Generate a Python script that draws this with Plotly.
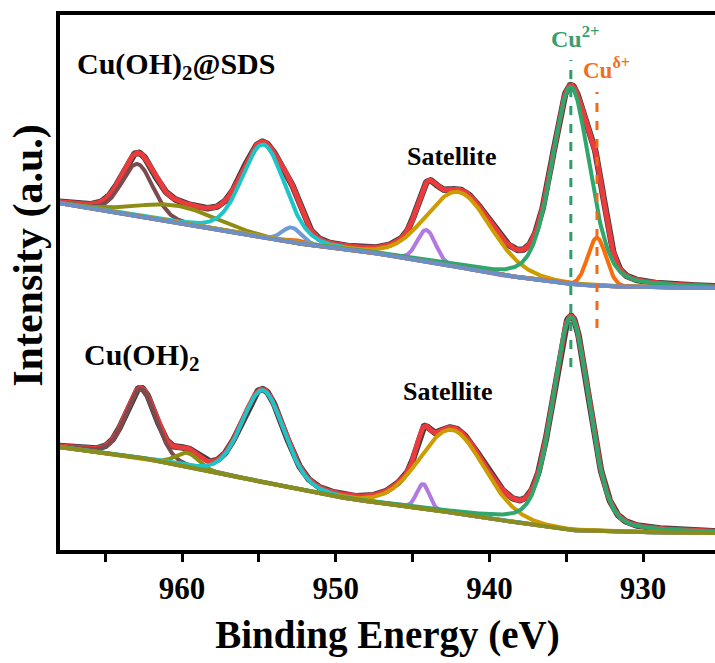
import numpy as np
import plotly.graph_objects as go

# ---------------------------------------------------------------
# Cu 2p XPS spectra with peak deconvolution
# ---------------------------------------------------------------
energy = np.linspace(968.0, 925.3, 900)          # binding energy grid (eV)

# Cu(OH)2@SDS -- fitted components
sds_names   = ["Cu2+ sat. 2p1/2", "sat. broad", "Cu2+ 2p1/2", "Cu\u03b4+ 2p1/2 (tail)",
               "Cu\u03b4+ 2p1/2", "sat. narrow", "sat. 2p3/2", "Cu2+ 2p3/2", "Cu\u03b4+ 2p3/2"]
sds_centers = [962.9, 960.3, 954.7, 952.6, 952.85, 944.1, 942.0, 934.7, 933.0]
sds_heights = [52, 17, 93, 3, 15, 31, 75, 197, 48]
sds_fwhm    = [2.4, 6.1, 3.3, 1.6, 1.5, 1.4, 5.0, 2.9, 1.4]
sds_eta     = [0.2, 0.0, 0.2, 0.0, 0.0, 0.0, 0.1, 0.3, 0.0]
sds_bg_e    = [925.3, 929.5, 932.8, 934.7, 936.0, 939.3, 942.0, 944.1, 945.8, 948.7,
               952.3, 955.6, 962.1, 968.0]
sds_bg_i    = [262, 263, 264, 266, 269, 275, 283, 289, 293, 300, 306, 315, 332, 347]

# Cu(OH)2 -- fitted components
cu_names    = ["Cu2+ sat. 2p1/2", "sat. small", "Cu2+ 2p1/2", "sat. narrow",
               "sat. 2p3/2", "Cu2+ 2p3/2"]
cu_centers  = [962.67, 959.67, 954.73, 944.32, 942.43, 934.69]
cu_heights  = [69, 14, 92, 24, 83, 213]
cu_fwhm     = [2.35, 1.8, 3.25, 0.95, 4.9, 2.8]
cu_eta      = [0.2, 0.0, 0.2, 0.0, 0.1, 0.3]
cu_bg_e     = [925.3, 931.5, 934.7, 936.1, 939.3, 942.4, 944.3, 948.7, 952.0, 954.8,
               957.4, 959.6, 962.6, 965.0, 968.0]
cu_bg_i     = [17, 18, 20, 23, 30, 37, 42, 50, 59, 68, 76, 83, 92, 97, 103]

# line colours
sds_colors = ["#7d4b4d", "#8d8d14", "#1fc4c8", "#f36b12", "#6e9ad8",
              "#b07ae2", "#cc9c02", "#31a66c", "#f86d0c"]
cu_colors  = ["#7d4b4d", "#8d8d14", "#1fc4c8", "#b07ae2", "#cc9c02", "#31a66c"]
SDS_BG_COLOR = "#6b8fc6"
CU_BG_COLOR = "#8a8c1e"
RAW_COLOR = "#3d3d3d"
ENV_COLOR = "#ec3b3d"


def pseudo_voigt(x, c, h, w, eta):
    g = np.exp(-4 * np.log(2) * ((x - c) / w) ** 2)
    l = 1.0 / (1.0 + 4 * ((x - c) / w) ** 2)
    return h * ((1 - eta) * g + eta * l)


def background(e_pts, i_pts):
    order = np.argsort(e_pts)
    return np.interp(energy, np.asarray(e_pts)[order], np.asarray(i_pts)[order])


fig = go.Figure()


def add_spectrum(centers, heights, fwhm, eta, names, colors, bg_e, bg_i, bg_color):
    bg = background(bg_e, bg_i)
    comps = [pseudo_voigt(energy, c, h, w, n)
             for c, h, w, n in zip(centers, heights, fwhm, eta)]
    envelope = bg + np.sum(comps, axis=0)
    # measured spectrum and envelope of the fit
    fig.add_trace(go.Scatter(x=energy, y=envelope, mode="lines",
                             line=dict(color=RAW_COLOR, width=6.5), name="raw"))
    fig.add_trace(go.Scatter(x=energy, y=envelope, mode="lines",
                             line=dict(color=ENV_COLOR, width=5), name="fit"))
    for comp, name, col in zip(comps, names, colors):
        fig.add_trace(go.Scatter(x=energy, y=bg + comp, mode="lines",
                                 line=dict(color=col, width=4), name=name))
    fig.add_trace(go.Scatter(x=energy, y=bg, mode="lines",
                             line=dict(color=bg_color, width=4), name="background"))


add_spectrum(sds_centers, sds_heights, sds_fwhm, sds_eta, sds_names, sds_colors,
             sds_bg_e, sds_bg_i, SDS_BG_COLOR)
add_spectrum(cu_centers, cu_heights, cu_fwhm, cu_eta, cu_names, cu_colors,
             cu_bg_e, cu_bg_i, CU_BG_COLOR)

# reference positions of the Cu2+ and Cu(delta+) 2p3/2 peaks
fig.add_shape(type="line", x0=934.7, x1=934.7, y0=183, y1=490, xref="x", yref="y",
              line=dict(color="#2e9e6a", width=3, dash="dash"))
fig.add_shape(type="line", x0=933.0, x1=933.0, y0=222, y1=458, xref="x", yref="y",
              line=dict(color="#f26a14", width=3, dash="dash"))

SERIF = "Liberation Serif"
notes = [
    (966.96, 484, "<b>Cu(OH)<sub>2</sub>@SDS</b>", "left", 30, "black"),
    (966.5, 193, "<b>Cu(OH)<sub>2</sub></b>", "left", 30, "black"),
    (942.43, 394, "<b>Satellite</b>", "center", 26, "black"),
    (942.7, 159, "<b>Satellite</b>", "center", 26, "black"),
    (934.4, 513, "<b>Cu<sup>2+</sup></b>", "center", 24, "#3a9e6e"),
    (932.35, 482, "<b>Cu<sup>\u03b4+</sup></b>", "center", 23, "#ef7020"),
]
for x, y, txt, anchor, size, col in notes:
    fig.add_annotation(x=x, y=y, text=txt, showarrow=False, xanchor=anchor,
                       yanchor="middle", font=dict(family=SERIF, size=size, color=col))

fig.add_annotation(xref="paper", yref="paper", x=0, y=0.55, xshift=-31,
                   text="<b>Intensity (a.u.)</b>", textangle=-90, showarrow=False,
                   xanchor="center", yanchor="middle",
                   font=dict(family=SERIF, size=42, color="black"))

tick_vals = [965, 960, 955, 950, 945, 940, 935, 930]
tick_text = ["", "960", "", "950", "", "940", "", "930"]

fig.update_layout(
    width=715, height=663,
    margin=dict(l=60, r=0, t=15, b=113),
    paper_bgcolor="white", plot_bgcolor="white",
    showlegend=False,
    xaxis=dict(range=[967.94, 925.32], tickvals=tick_vals, ticktext=tick_text,
               ticks="outside", ticklen=8, tickwidth=3, tickcolor="black",
               showline=True, linewidth=4, linecolor="black", mirror=True,
               showgrid=False, zeroline=False,
               tickfont=dict(family=SERIF, size=31, color="black", weight="bold"),
               title=dict(text="Binding Energy (eV)", standoff=16,
                          font=dict(family=SERIF, size=39, color="black", weight="bold"))),
    yaxis=dict(range=[0, 535], showticklabels=False, ticks="",
               showline=True, linewidth=4, linecolor="black", mirror=False,
               showgrid=False, zeroline=False),
)

fig.write_html("out.html")
